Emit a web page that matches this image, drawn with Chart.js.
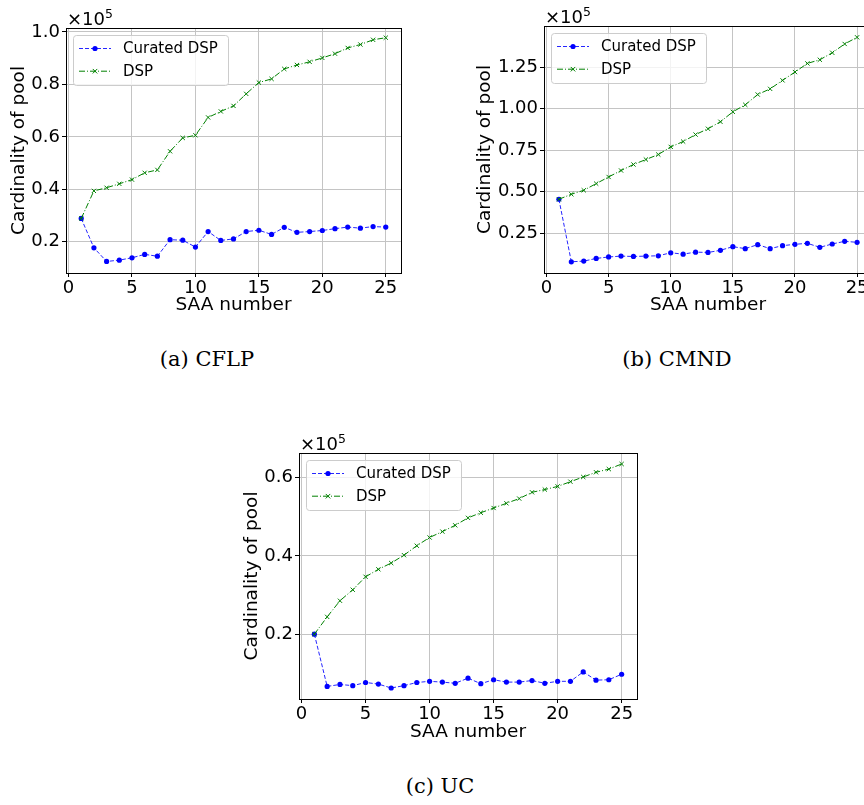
<!DOCTYPE html>
<html>
<head>
<meta charset="utf-8">
<script src="https://cdn.jsdelivr.net/npm/chart.js@4.4.1/dist/chart.umd.min.js"></script>
<style>
  html, body { margin: 0; padding: 0; background: #fff; }
  body { width: 864px; height: 805px; position: relative; overflow: hidden; }
  canvas { position: absolute; }
  .cap { position: absolute; font-family: "DejaVu Serif", serif; font-size: 21px; color: #000;
         transform: translate(-50%, -50%); white-space: nowrap; }
</style>
</head>
<body>
<canvas id="chartA" width="420" height="325" style="left:0;top:0"></canvas>
<canvas id="chartB" width="430" height="325" style="left:470px;top:0"></canvas>
<canvas id="chartC" width="420" height="325" style="left:233px;top:428px"></canvas>
<div class="cap" style="left:207px;top:359px">(a) CFLP</div>
<div class="cap" style="left:677px;top:359px">(b) CMND</div>
<div class="cap" style="left:440px;top:786px">(c) UC</div>

<script>
const saaNumber = [1, 2, 3, 4, 5, 6, 7, 8, 9, 10, 11, 12, 13, 14, 15, 16, 17, 18, 19, 20, 21, 22, 23, 24, 25];

// (a) CFLP
const cflpCurated = [28900, 17700, 12500, 13000, 13900, 15200, 14500, 20800, 20600, 18000, 23900, 20500, 21100,
                     23900, 24400, 22800, 25500, 23600, 23900, 24300, 25000, 25600, 25200, 25800, 25600];
const cflpDsp = [28900, 39400, 40600, 42100, 43700, 46300, 47400, 54500, 59600, 60600, 67400, 69700, 71800,
                 76400, 80700, 82100, 85900, 87400, 88600, 90100, 91700, 93900, 95200, 97000, 97800];

// (b) CMND
const cmndCurated = [45500, 7900, 8300, 9900, 10800, 11300, 11100, 11300, 11500, 13300, 12500, 13700, 13500,
                     14800, 17000, 15800, 18200, 15800, 17600, 18400, 19000, 16600, 18600, 20200, 19600];
const cmndDsp = [45500, 48500, 50900, 54900, 58900, 62800, 66400, 69400, 72400, 77000, 80200, 84400, 87900,
                 92100, 98100, 102300, 108500, 111900, 117000, 122000, 127200, 129400, 133600, 138900, 142900];

// (c) UC
const ucCurated = [20100, 6800, 7300, 7000, 7800, 7400, 6400, 7000, 7800, 8100, 7900, 7600, 8900,
                   7500, 8500, 7900, 7900, 8300, 7600, 8100, 8100, 10500, 8400, 8500, 9900];
const ucDsp = [20100, 24500, 28600, 31400, 34700, 36600, 38200, 40200, 42600, 44700, 46200, 47800, 49700,
               51000, 52200, 53400, 54600, 56200, 56900, 57700, 58900, 60100, 61300, 62100, 63400];

const xTicks = [0, 5, 10, 15, 20, 25];
const yTicksA = [20000, 40000, 60000, 80000, 100000];
const yTicksB = [25000, 50000, 75000, 100000, 125000];
const yTicksC = [20000, 40000, 60000];
const yRangeA = [8100, 101500];
const yRangeB = [1150, 149700];
const yRangeC = [3600, 66200];

const FONT = '"DejaVu Sans", sans-serif';
Chart.defaults.color = '#000';
Chart.defaults.font.family = FONT;

// axes frame, x10^5 offset text and the legend inside the axes
const framePlugin = {
    id: 'frame',
    afterDatasetsDraw(chart) {
        const ctx = chart.ctx;
        const a = chart.chartArea;
        ctx.save();
        ctx.setLineDash([]);
        ctx.strokeStyle = '#000';
        ctx.lineWidth = 1;
        ctx.strokeRect(Math.round(a.left) + 0.5, Math.round(a.top) + 0.5,
                       Math.round(a.width), Math.round(a.height));

        ctx.fillStyle = '#000';
        ctx.textBaseline = 'alphabetic';
        ctx.textAlign = 'left';
        ctx.font = '18px ' + FONT;
        ctx.fillText('×10', a.left + 1, a.top - 3);
        const w = ctx.measureText('×10').width;
        ctx.font = '12.5px ' + FONT;
        ctx.fillText('5', a.left + 1 + w, a.top - 10);

        // legend
        const bx = a.left + 7, by = a.top + 7, bw = 155, bh = 50;
        ctx.beginPath();
        ctx.roundRect(bx + 0.5, by + 0.5, bw, bh, 3);
        ctx.fillStyle = 'rgba(255,255,255,0.8)';
        ctx.fill();
        ctx.strokeStyle = '#cccccc';
        ctx.stroke();

        chart.data.datasets.forEach((ds, i) => {
            const ry = by + 13.5 + i * 22.7;
            ctx.beginPath();
            ctx.strokeStyle = ds.borderColor;
            ctx.lineWidth = 1;
            ctx.setLineDash(ds.borderDash);
            ctx.moveTo(bx + 6, ry);
            ctx.lineTo(bx + 38, ry);
            ctx.stroke();
            ctx.setLineDash([]);
            const mx = bx + 22;
            if (ds.pointStyle === 'circle') {
                ctx.beginPath();
                ctx.fillStyle = ds.pointBackgroundColor;
                ctx.arc(mx, ry, ds.pointRadius, 0, Math.PI * 2);
                ctx.fill();
            } else {
                const r = ds.pointRadius * 0.75;
                ctx.beginPath();
                ctx.strokeStyle = ds.pointBorderColor;
                ctx.moveTo(mx - r, ry - r); ctx.lineTo(mx + r, ry + r);
                ctx.moveTo(mx - r, ry + r); ctx.lineTo(mx + r, ry - r);
                ctx.stroke();
            }
            ctx.fillStyle = '#000';
            ctx.font = '15px ' + FONT;
            ctx.textBaseline = 'middle';
            ctx.fillText(ds.label, bx + 50, ry + 1);
        });
        ctx.restore();
    }
};

function makeChart(id, curated, dsp, yRange, yTicks, digits, lay) {
    const pts = vals => saaNumber.map((x, i) => ({ x: x, y: vals[i] }));
    const grid = { color: '#c4c4c4', lineWidth: 1, tickColor: '#000', tickLength: 4 };
    return new Chart(document.getElementById(id), {
        type: 'line',
        data: {
            datasets: [
                {
                    label: 'Curated DSP',
                    data: pts(curated),
                    borderColor: 'rgba(0,0,255,0.85)',
                    backgroundColor: '#0000ff',
                    borderWidth: 1,
                    borderDash: [4, 2],
                    pointStyle: 'circle',
                    pointRadius: 2.6,
                    pointBorderWidth: 0,
                    pointBackgroundColor: '#0000ff',
                    order: 1
                },
                {
                    label: 'DSP',
                    data: pts(dsp),
                    borderColor: '#008000',
                    backgroundColor: '#008000',
                    borderWidth: 1,
                    borderDash: [6, 2, 1, 2],
                    pointStyle: 'crossRot',
                    pointRadius: 3,
                    pointBorderWidth: 1,
                    pointBorderColor: '#008000',
                    order: 0
                }
            ]
        },
        options: {
            responsive: false,
            animation: false,
            events: [],
            layout: { padding: { left: 0, top: lay.top, right: lay.right, bottom: 0 } },
            plugins: { legend: { display: false }, tooltip: { enabled: false } },
            scales: {
                x: {
                    type: 'linear',
                    min: -0.2,
                    max: 26.2,
                    afterBuildTicks: s => { s.ticks = xTicks.map(v => ({ value: v })); },
                    afterFit: s => { s.height = lay.xh; },
                    grid: grid,
                    border: { display: false },
                    ticks: { font: { size: 18 }, padding: 1, maxRotation: 0, callback: v => String(v) },
                    title: { display: true, text: 'SAA number', font: { size: 18.5 },
                             padding: { top: 0, bottom: lay.xpb } }
                },
                y: {
                    type: 'linear',
                    min: yRange[0],
                    max: yRange[1],
                    afterBuildTicks: s => { s.ticks = yTicks.map(v => ({ value: v })); },
                    afterFit: s => { s.width = lay.yw; },
                    grid: grid,
                    border: { display: false },
                    ticks: { font: { size: 18 }, padding: 2, callback: v => (v / 1e5).toFixed(digits) },
                    title: { display: true, text: 'Cardinality of pool', font: { size: 18.5 },
                             padding: { top: lay.ypt, bottom: 0 } }
                }
            }
        },
        plugins: [framePlugin]
    });
}

makeChart('chartA', cflpCurated, cflpDsp, yRangeA, yTicksA, 1,
          { top: 28, right: 19, xh: 52, yw: 66, ypt: 8.4, xpb: 8.9 });
makeChart('chartB', cmndCurated, cmndDsp, yRangeB, yTicksB, 2,
          { top: 26, right: 28, xh: 52, yw: 74, ypt: 4.4, xpb: 8.9 });
makeChart('chartC', ucCurated, ucDsp, yRangeC, yTicksC, 1,
          { top: 25, right: 16, xh: 54, yw: 66, ypt: 8.4, xpb: 9.9 });
</script>
</body>
</html>
